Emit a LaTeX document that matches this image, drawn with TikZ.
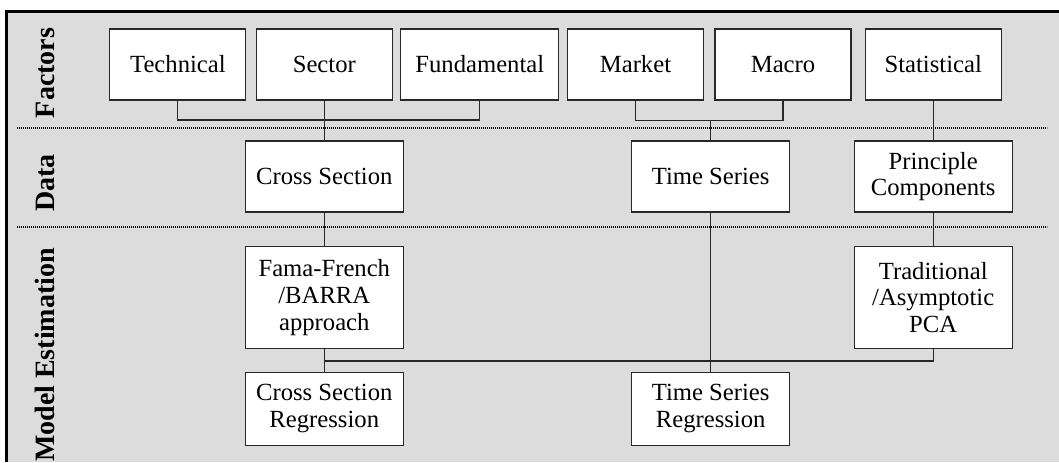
\documentclass[tikz,border=0pt]{standalone}
\usepackage{fontspec}
\setmainfont{Liberation Serif}
\definecolor{panel}{RGB}{220,220,220}
\definecolor{ink}{RGB}{40,40,40}
\begin{document}
\begin{tikzpicture}[x=0.75pt,y=-0.75pt,
  box/.style={draw=ink,line width=0.8pt,fill=white,inner sep=2pt,align=center,
    font=\fontsize{18.5}{20}\selectfont,minimum height=53.25pt},
  narrowbox/.style={box,minimum width=102pt},
  widebox/.style={box,minimum width=118.5pt},
  link/.style={draw=ink,line width=0.8pt},
  divider/.style={line width=1.3pt,dash pattern=on 0.8pt off 0.7pt},
  rowlabel/.style={rotate=90,font=\fontsize{21}{24}\selectfont\bfseries,inner sep=0pt}]
\useasboundingbox (0,0) rectangle (1059,462);
% panel background and frame edges
\fill[panel] (7,12) rectangle (1059,462);
\draw[line width=2.4pt] (5,11.3) -- (1059,11.3);
\draw[line width=2.4pt] (6.5,10) -- (6.5,462);
% row dividers
\draw[divider] (17,128) -- (1047,128);
\draw[divider] (17,226.7) -- (1047,226.7);
% row labels
\node[rowlabel] (lfac) at (45,73) {Factors};
\node[rowlabel] (ldat) at (45,183) {Data};
\node[rowlabel] (lmod) at (45,355) {Model Estimation};
% factors
\node[narrowbox] (tech) at (177.9,64.5) {Technical};
\node[narrowbox] (sect) at (324.3,64.5) {Sector};
\node[widebox]   (fund) at (479.8,64.5) {Fundamental};
\node[narrowbox] (mkt)  at (635.5,64.5) {Market};
\node[narrowbox] (mac)  at (783,64.5) {Macro};
\node[narrowbox] (stat) at (933.2,64.5) {Statistical};
% data
\node[widebox] (cs)  at (324.3,176.5) {Cross Section};
\node[widebox] (ts)  at (710.7,176.5) {Time Series};
\node[widebox] (pc)  at (933.2,176.5) {Principle\\Components};
% model estimation
\node[widebox,minimum height=76.2pt] (ff) at (324.3,297.5) {Fama-French\\/BARRA\\approach};
\node[widebox,minimum height=76.2pt] (tp) at (933.2,297.5) {Traditional\\/Asymptotic\\PCA};
\node[widebox,minimum height=54.75pt] (csr) at (324.3,408.7) {Cross Section\\Regression};
\node[widebox,minimum height=54.75pt] (tsr) at (710.7,408.7) {Time Series\\Regression};
% bus levels
\coordinate (busA) at (0,120);
\coordinate (busB) at (0,120.7);
\coordinate (busC) at (0,361);
% connectors
\draw[link] (tech.south) -- (tech.south |- busA) -| (fund.south);
\draw[link] (sect.south) -- (cs.north);
\draw[link] (mkt.south) -- (mkt.south |- busB) -| (mac.south);
\draw[link] (ts.north) -- (ts.north |- busB);
\draw[link] (stat.south) -- (pc.north);
\draw[link] (cs.south) -- (ff.north);
\draw[link] (pc.south) -- (tp.north);
\draw[link] (ff.south) -- (csr.north);
\draw[link] (ts.south) -- (tsr.north);
\draw[link] (ff.south |- busC) -| (tp.south);
\end{tikzpicture}
\end{document}
